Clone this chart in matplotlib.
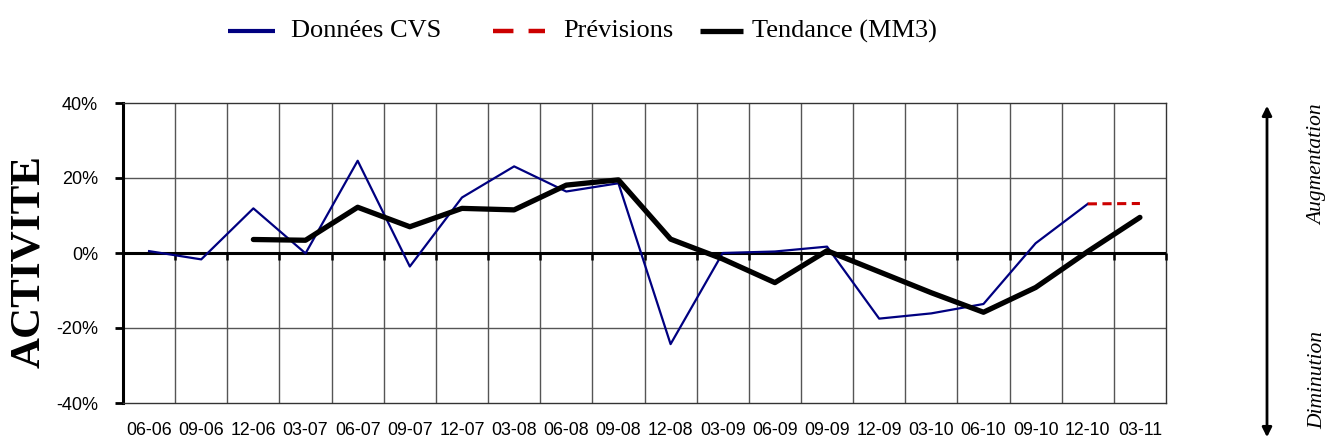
import numpy as np
import matplotlib
matplotlib.use('Agg')
import matplotlib.pyplot as plt
from matplotlib.lines import Line2D
from matplotlib.patches import FancyArrowPatch
from matplotlib.ticker import FuncFormatter

# Trimestres (mois-année)
periodes = ['06-06', '09-06', '12-06', '03-07', '06-07', '09-07', '12-07', '03-08',
            '06-08', '09-08', '12-08', '03-09', '06-09', '09-09', '12-09', '03-10',
            '06-10', '09-10', '12-10', '03-11']

# Données corrigées des variations saisonnières (%)
donnees_cvs = [0.5, -1.7, 11.9, -0.1, 24.6, -3.6, 14.8, 23.1, 16.4, 18.6,
               -24.3, 0.0, 0.4, 1.7, -17.5, -16.1, -13.6, 2.6, 13.1, np.nan]

# Prévisions (%)
previsions = [np.nan] * 18 + [13.1, 13.2]

# Tendance : moyenne mobile sur 3 trimestres (%)
tendance = [np.nan, np.nan, 3.6, 3.4, 12.2, 7.0, 11.9, 11.5, 18.1, 19.5,
            3.7, -1.6, -7.9, 0.6, -5.0, -10.6, -15.8, -9.2, 0.4, 9.5]

SERIF = 'Liberation Serif'
SANS = 'Liberation Sans'
BLEU = '#000080'
ROUGE = '#CC0000'

W, H = 1327, 443
fig = plt.figure(figsize=(W / 100, H / 100), dpi=100)
ax = fig.add_axes([123 / W, 1 - 403 / H, 1043 / W, 300 / H])


def px(xp, yp):
    # pixels (origine en haut à gauche) -> coordonnées figure
    return xp / W, 1 - yp / H


x = np.arange(len(periodes))
ax.plot(x, donnees_cvs, color=BLEU, lw=1.6, zorder=4)
ax.plot(x, previsions, color=ROUGE, lw=2.2, dashes=(3, 1.8), zorder=4)
ax.plot(x, tendance, color='black', lw=3.8, solid_capstyle='round', zorder=5)

ax.set_xlim(-0.5, len(periodes) - 0.5)
ax.set_ylim(-40, 40)

# grille : verticales entre les trimestres, horizontales tous les 20 %
bornes = np.arange(len(periodes) + 1) - 0.5
for b in bornes[1:-1]:
    ax.axvline(b, color='#555555', lw=1.0, zorder=1)
for yv in [-20, 20]:
    ax.axhline(yv, color='#555555', lw=1.0, zorder=1)

# axe des abscisses à 0 % avec ses graduations
ax.axhline(0, color='black', lw=2.2, zorder=3)
ax.plot(bornes, np.zeros_like(bornes), ls='none', marker=3, ms=5, mew=1.8,
        color='black', zorder=3, clip_on=False)

ax.set_xticks(x)
ax.set_xticklabels(periodes, fontfamily=SANS, fontsize=12.8)
ax.tick_params(axis='x', length=0, pad=14)
ax.set_yticks([-40, -20, 0, 20, 40])
ax.yaxis.set_major_formatter(FuncFormatter(lambda v, p: '%d%%' % v))
ax.tick_params(axis='y', direction='out', length=6, width=2, pad=12, labelsize=13)
for lab in ax.get_yticklabels():
    lab.set_fontfamily(SANS)

for side in ['top', 'right', 'bottom']:
    ax.spines[side].set_color('#333333')
    ax.spines[side].set_linewidth(1.0)
ax.spines['left'].set_linewidth(2.2)

fig.text(*px(29, 261), 'ACTIVITE', rotation=90, fontfamily=SERIF,
         fontweight='bold', fontsize=31, ha='center', va='center')

# légende
y_leg = 31
entrees = [
    (228, 275, 291, 'Données CVS', dict(color=BLEU, lw=3)),
    (493, 545, 563, 'Prévisions', dict(color=ROUGE, lw=3.2, dashes=(4.6, 3.4))),
    (700, 743, 752, 'Tendance (MM3)', dict(color='black', lw=3.8)),
]
for x0, x1, xt, texte, style in entrees:
    (fx0, fy), (fx1, _) = px(x0, y_leg), px(x1, y_leg)
    fig.add_artist(Line2D([fx0, fx1], [fy, fy], transform=fig.transFigure,
                          solid_capstyle='butt', dash_capstyle='butt', **style))
    fig.text(*px(xt, y_leg), texte, fontfamily=SERIF, fontsize=19,
             ha='left', va='center')

# flèche Augmentation / Diminution
fig.patches.append(FancyArrowPatch(px(1267, 440), px(1267, 103),
                                   transform=fig.transFigure, arrowstyle='<|-|>',
                                   mutation_scale=14, lw=2, color='black'))
fig.text(*px(1318, 165), 'Augmentation', rotation=90, fontfamily=SERIF,
         style='italic', fontsize=15.5, ha='center', va='center')
fig.text(*px(1318, 380), 'Diminution', rotation=90, fontfamily=SERIF,
         style='italic', fontsize=15.5, ha='center', va='center')

fig.savefig('out.png', dpi=100)
